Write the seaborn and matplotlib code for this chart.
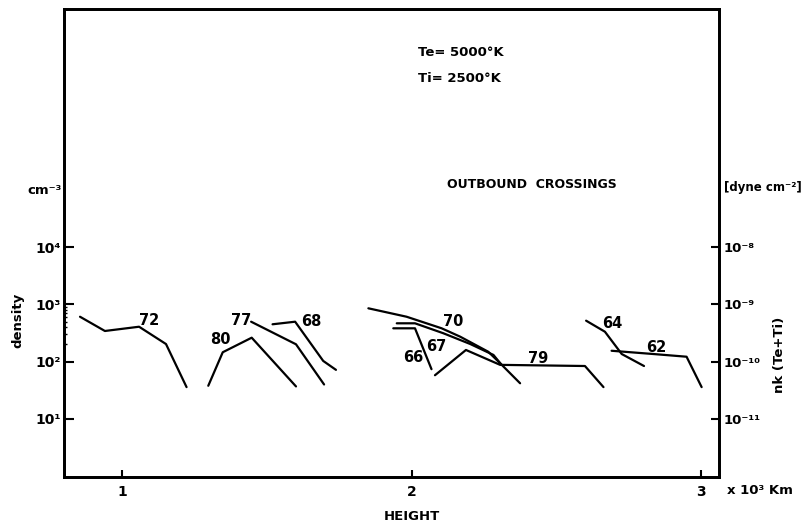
import matplotlib
matplotlib.use("Agg")
import matplotlib.pyplot as plt
from matplotlib.ticker import FixedLocator, NullFormatter, NullLocator
import pandas as pd
import seaborn as sns

# Outbound crossings: height (10^3 km) and electron density (cm^-3)
h62 = [2.691, 2.835, 2.950, 3.002]
n62 = [155, 136, 122, 36]
h64 = [2.603, 2.668, 2.726, 2.803]
n64 = [519, 333, 136, 84]
h66 = [1.937, 2.012, 2.069]
n66 = [382, 382, 74]
h67 = [1.949, 2.012, 2.110, 2.203, 2.283, 2.311]
n67 = [467, 467, 313, 203, 131, 88]
h68 = [1.520, 1.598, 1.695, 1.739]
n68 = [449, 498, 103, 72]
h70 = [1.851, 1.983, 2.104, 2.168, 2.265, 2.306, 2.375]
n70 = [853, 608, 382, 273, 149, 94, 42]
h72 = [0.855, 0.941, 1.059, 1.152, 1.223]
n72 = [608, 343, 407, 203, 36]
h77 = [1.446, 1.601, 1.698]
n77 = [498, 201, 40]
h79 = [2.081, 2.188, 2.306, 2.599, 2.663]
n79 = [58, 160, 88, 84, 36]
h80 = [1.298, 1.348, 1.448, 1.601]
n80 = [38, 146, 262, 37]

crossings = {"62": (h62, n62), "64": (h64, n64), "66": (h66, n66),
             "67": (h67, n67), "68": (h68, n68), "70": (h70, n70),
             "72": (h72, n72), "77": (h77, n77), "79": (h79, n79),
             "80": (h80, n80)}

# where each crossing number is written (height, density)
tag_at = {"72": (1.093, 533), "80": (1.339, 239), "77": (1.41, 533),
          "68": (1.655, 512), "70": (2.143, 498), "67": (2.085, 182),
          "66": (2.005, 116), "79": (2.438, 114), "64": (2.692, 467),
          "62": (2.845, 178)}

left_ticks = [1e1, 1e2, 1e3, 1e4]
left_labels = ["10¹", "10²", "10³", "10⁴"]
right_ticks = [1e-11, 1e-10, 1e-9, 1e-8]
right_labels = ["10⁻¹¹", "10⁻¹⁰", "10⁻⁹", "10⁻⁸"]
x_ticks = [1, 2, 3]

rows = []
for name, (hs, ns) in crossings.items():
    for i, (h, n) in enumerate(zip(hs, ns)):
        rows.append({"crossing": name, "order": i, "height": h, "density": n})
df = pd.DataFrame(rows)

sns.set_style("white")
plt.rcParams["font.family"] = ["DejaVu Sans"]
plt.rcParams["font.weight"] = "bold"
for key in ("text.color", "axes.labelcolor", "xtick.color", "ytick.color",
            "axes.edgecolor"):
    plt.rcParams[key] = "black"

fig = plt.figure(figsize=(8.08, 5.26), dpi=100)
ax = fig.add_axes([64 / 808, 49 / 526, 655 / 808, 468 / 526])

sns.lineplot(data=df, x="height", y="density", units="crossing",
             estimator=None, sort=False, color="black", linewidth=1.6, ax=ax)

ax.set_yscale("log")
ylo, yhi = 0.973, 1.42e8
ax.set_xlim(0.7997, 3.062)
ax.set_ylim(ylo, yhi)

for name, (tx, ty) in tag_at.items():
    ax.text(tx, ty, name, ha="center", va="center", fontsize=10.5,
            fontweight="bold", color="black")

ax.set_xticks(x_ticks)
ax.set_xticklabels([str(t) for t in x_ticks])
ax.set_yticks(left_ticks)
ax.set_yticklabels(left_labels)
ax.yaxis.set_minor_locator(FixedLocator([200, 300, 400, 500, 600, 700, 800, 900]))
ax.yaxis.set_minor_formatter(NullFormatter())
ax.xaxis.set_minor_locator(NullLocator())
ax.tick_params(axis="x", direction="in", length=5, width=1.5, pad=6,
               labelsize=10, bottom=True, colors="black")
ax.tick_params(axis="y", which="major", direction="in", length=7, width=1.5,
               pad=2, labelsize=10, left=True, colors="black")
ax.tick_params(axis="y", which="minor", direction="in", length=2.5, width=1,
               left=True, colors="black")
ax.set_xlabel("")
ax.set_ylabel("")
for s in ax.spines.values():
    s.set_visible(True)
    s.set_color("black")
    s.set_linewidth(2)

ax2 = ax.twinx()
ax2.set_yscale("log")
ax2.set_ylim(ylo * 1e-12, yhi * 1e-12)
ax2.set_yticks(right_ticks)
ax2.set_yticklabels(right_labels)
ax2.yaxis.set_minor_locator(NullLocator())
ax2.tick_params(axis="y", direction="in", length=6, width=1.5, pad=3,
                labelsize=9.5, right=True, colors="black")
for s in ax2.spines.values():
    s.set_linewidth(2)
    s.set_color("black")

fig.text(62 / 808, 1 - 190 / 526, "cm⁻³", ha="right", va="center",
         fontsize=9.5, fontweight="bold")
fig.text(18 / 808, 1 - 320 / 526, "density", rotation=90, ha="center",
         va="center", fontsize=9.5, fontweight="bold")
fig.text(724 / 808, 1 - 187 / 526, "[dyne cm⁻²]", ha="left", va="center",
         fontsize=8.5, fontweight="bold")
fig.text(780 / 808, 1 - 355 / 526, "nk (Te+Ti)", rotation=90, ha="center",
         va="center", fontsize=9.5, fontweight="bold")
fig.text(727 / 808, 1 - 491 / 526, "x 10³ Km", ha="left", va="center",
         fontsize=9.5, fontweight="bold")
fig.text(412 / 808, 1 - 517 / 526, "HEIGHT", ha="center", va="center",
         fontsize=9.5, fontweight="bold")
fig.text(418 / 808, 1 - 53 / 526, "Te= 5000°K", ha="left", va="center",
         fontsize=9.5, fontweight="bold")
fig.text(418 / 808, 1 - 78 / 526, "Ti= 2500°K", ha="left", va="center",
         fontsize=9.5, fontweight="bold")
fig.text(532 / 808, 1 - 184 / 526, "OUTBOUND  CROSSINGS", ha="center",
         va="center", fontsize=9, fontweight="bold")

fig.savefig("out.png", dpi=100)
